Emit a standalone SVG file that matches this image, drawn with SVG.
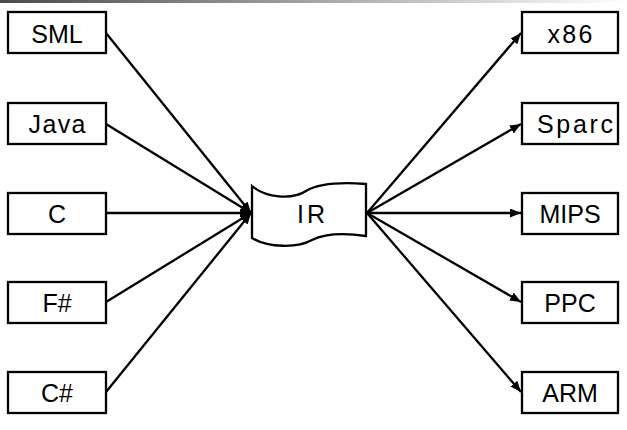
<svg xmlns="http://www.w3.org/2000/svg" width="627" height="430" viewBox="0 0 627 430">
<defs>
<linearGradient id="bar" x1="0" y1="0" x2="1" y2="0">
<stop offset="0" stop-color="#4a4a4a"/>
<stop offset="1" stop-color="#ffffff"/>
</linearGradient>
<marker id="arr" markerUnits="userSpaceOnUse" markerWidth="12" markerHeight="10" refX="11" refY="4.5" orient="auto">
<path d="M0,0 L11,4.5 L0,9 z" fill="#000"/>
</marker>
</defs>
<style>
.box{fill:#fff;stroke:#000;stroke-width:2.3}
.lbl{font-family:"Liberation Sans",Arial,sans-serif;font-size:25px;fill:#000;text-anchor:middle}
.con{stroke:#000;stroke-width:2.3;fill:none;marker-end:url(#arr)}
</style>
<rect x="0" y="0" width="627" height="3" fill="url(#bar)"/>
<g id="connectors">
<line class="con" x1="106" y1="33" x2="251" y2="213"/>
<line class="con" x1="106" y1="124" x2="251" y2="213"/>
<line class="con" x1="106" y1="213" x2="251" y2="213"/>
<line class="con" x1="106" y1="302" x2="251" y2="213"/>
<line class="con" x1="106" y1="392" x2="251" y2="213"/>
<line class="con" x1="367" y1="213" x2="521" y2="33"/>
<line class="con" x1="367" y1="213" x2="521" y2="124"/>
<line class="con" x1="367" y1="213" x2="521" y2="213"/>
<line class="con" x1="367" y1="213" x2="521" y2="302"/>
<line class="con" x1="367" y1="213" x2="521" y2="392"/>
</g>
<g id="n-sml"><rect class="box" x="8" y="12" width="98" height="41"/><text class="lbl" x="57" y="43">SML</text></g>
<g id="n-java"><rect class="box" x="8" y="103" width="98" height="41"/><text class="lbl" x="57" y="133" textLength="57" lengthAdjust="spacing">Java</text></g>
<g id="n-c"><rect class="box" x="8" y="193" width="98" height="41"/><text class="lbl" x="57" y="223">C</text></g>
<g id="n-fsharp"><rect class="box" x="8" y="282" width="98" height="41"/><text class="lbl" x="57" y="312">F#</text></g>
<g id="n-csharp"><rect class="box" x="8" y="372" width="98" height="41"/><text class="lbl" x="57" y="402">C#</text></g>
<g id="n-ir">
<path class="box" d="M252,186 C266,198 292,200 306,191 C318,184 340,182 366,184 L366,236 C352,234 328,232 312,240 C298,248 268,248 252,238 Z"/>
<text class="lbl" x="311" y="223" textLength="28" lengthAdjust="spacing">IR</text>
</g>
<g id="n-x86"><rect class="box" x="522" y="12" width="96" height="41"/><text class="lbl" x="570" y="43" textLength="45" lengthAdjust="spacing">x86</text></g>
<g id="n-sparc"><rect class="box" x="522" y="103" width="96" height="41"/><text class="lbl" x="575" y="133" textLength="76" lengthAdjust="spacing">Sparc</text></g>
<g id="n-mips"><rect class="box" x="522" y="193" width="96" height="41"/><text class="lbl" x="570" y="223">MIPS</text></g>
<g id="n-ppc"><rect class="box" x="522" y="282" width="96" height="41"/><text class="lbl" x="570" y="312">PPC</text></g>
<g id="n-arm"><rect class="box" x="522" y="372" width="96" height="41"/><text class="lbl" x="570" y="402">ARM</text></g>
</svg>
